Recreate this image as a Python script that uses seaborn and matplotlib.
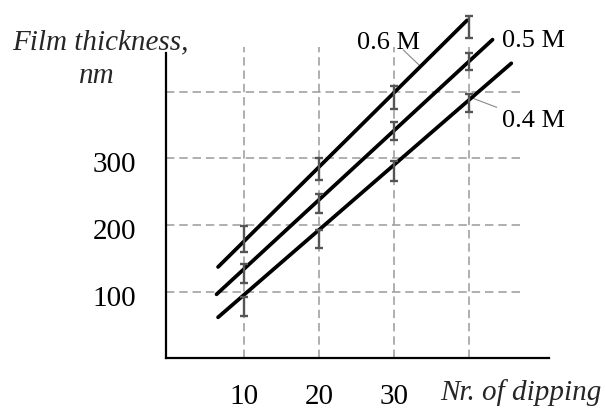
import matplotlib
matplotlib.use("Agg")
import matplotlib.pyplot as plt
import matplotlib.transforms as mtrans
import seaborn as sns
import pandas as pd

# ---- data ----
dips = [10, 20, 30, 40]
series = ["0.6 M", "0.5 M", "0.4 M"]
thick_06 = [179, 284, 391, 497]
thick_05 = [127, 232, 341, 445]
thick_04 = [78, 179, 281, 383]
err_06 = [19, 16, 17, 17]
err_05 = [14, 14, 14, 12.5]
err_04 = [14.5, 13, 15, 13]
# straight trend lines (start / end)
line_x_06 = [6.5, 39.7]
line_y_06 = [137, 507]
line_x_05 = [6.3, 43.1]
line_y_05 = [96, 478]
line_x_04 = [6.5, 45.6]
line_y_04 = [61.5, 442.5]
xticks = [10, 20, 30, 40]
xtick_labels = ["10", "20", "30", ""]
yticks = [100, 200, 300, 400]
ytick_labels = ["100", "200", "300", ""]

sns.set_theme(style="white")
plt.rcParams["font.family"] = ["Liberation Serif", "DejaVu Serif"]

W, H = 606, 412
fig = plt.figure(figsize=(W / 100, H / 100), dpi=100)
left_px, right_px = 166.3, 548.8
bot_px = 358.3
ax = fig.add_axes([left_px / W, (H - bot_px) / H, (right_px - left_px) / W, bot_px / H])
ax.set_xlim(-0.4, 50.6)
ax.set_ylim(0, 537.5)

grid_kw = dict(color="#9a9a9a", lw=1.1, linestyle=(0, (5.5, 3.2)), zorder=1)
ax.hlines(yticks, -0.4, 47.2, **grid_kw)
ax.vlines(xticks, 0, 467, **grid_kw)

lines_df = pd.DataFrame({
    "x": line_x_06 + line_x_05 + line_x_04,
    "y": line_y_06 + line_y_05 + line_y_04,
    "series": [series[0]] * 2 + [series[1]] * 2 + [series[2]] * 2,
})
sns.lineplot(data=lines_df, x="x", y="y", hue="series", palette=["black"] * 3,
             linewidth=2.7, legend=False, ax=ax, zorder=3, estimator=None, sort=False)

for vals, errs in [(thick_06, err_06), (thick_05, err_05), (thick_04, err_04)]:
    ax.errorbar(dips, vals, yerr=errs, fmt="none", ecolor="#555555",
                elinewidth=1.7, capsize=2.9, capthick=1.7, zorder=4)

for s in ["top", "right"]:
    ax.spines[s].set_visible(False)
ax.spines["left"].set_bounds(0, 458)
for s in ["left", "bottom"]:
    ax.spines[s].set_linewidth(1.6)
    ax.spines[s].set_color("black")

ax.set_xticks(xticks)
ax.set_xticklabels(xtick_labels)
ax.set_yticks(yticks)
ax.set_yticklabels(ytick_labels)
ax.tick_params(axis="both", which="major", direction="out", length=8.5, width=1.6,
               color="black", labelsize=21, labelcolor="black")
ax.tick_params(axis="y", pad=13)
ax.tick_params(axis="x", pad=10)
ax.set_xlabel("")
ax.set_ylabel("")
shift = mtrans.ScaledTranslation(0, -4 / 100, fig.dpi_scale_trans)
for lab in ax.get_yticklabels():
    lab.set_transform(lab.get_transform() + shift)

lab_kw = dict(fontsize=19, color="black", ha="left", va="baseline", clip_on=False)
ax.text(25.0, 463.5, series[0], **lab_kw)
ax.text(44.3, 466.5, series[1], **lab_kw)
ax.text(44.3, 346.5, series[2], **lab_kw)
ax.plot([31.2, 33.3], [462.5, 440], color="#888888", lw=0.8, zorder=2)
ax.plot([40.5, 43.65], [390, 376.5], color="#888888", lw=0.8, zorder=2)

ax.text(-21, 464, "Film thickness,", fontsize=21, style="italic",
        ha="left", va="baseline", clip_on=False)
ax.text(-9.7, 413, "nm", fontsize=21, style="italic",
        ha="center", va="baseline", clip_on=False)
ax.text(36.1, -62.5, "Nr. of dipping", fontsize=21, style="italic",
        ha="left", va="baseline", clip_on=False)

fig.savefig("out.png", dpi=100, facecolor="white")
